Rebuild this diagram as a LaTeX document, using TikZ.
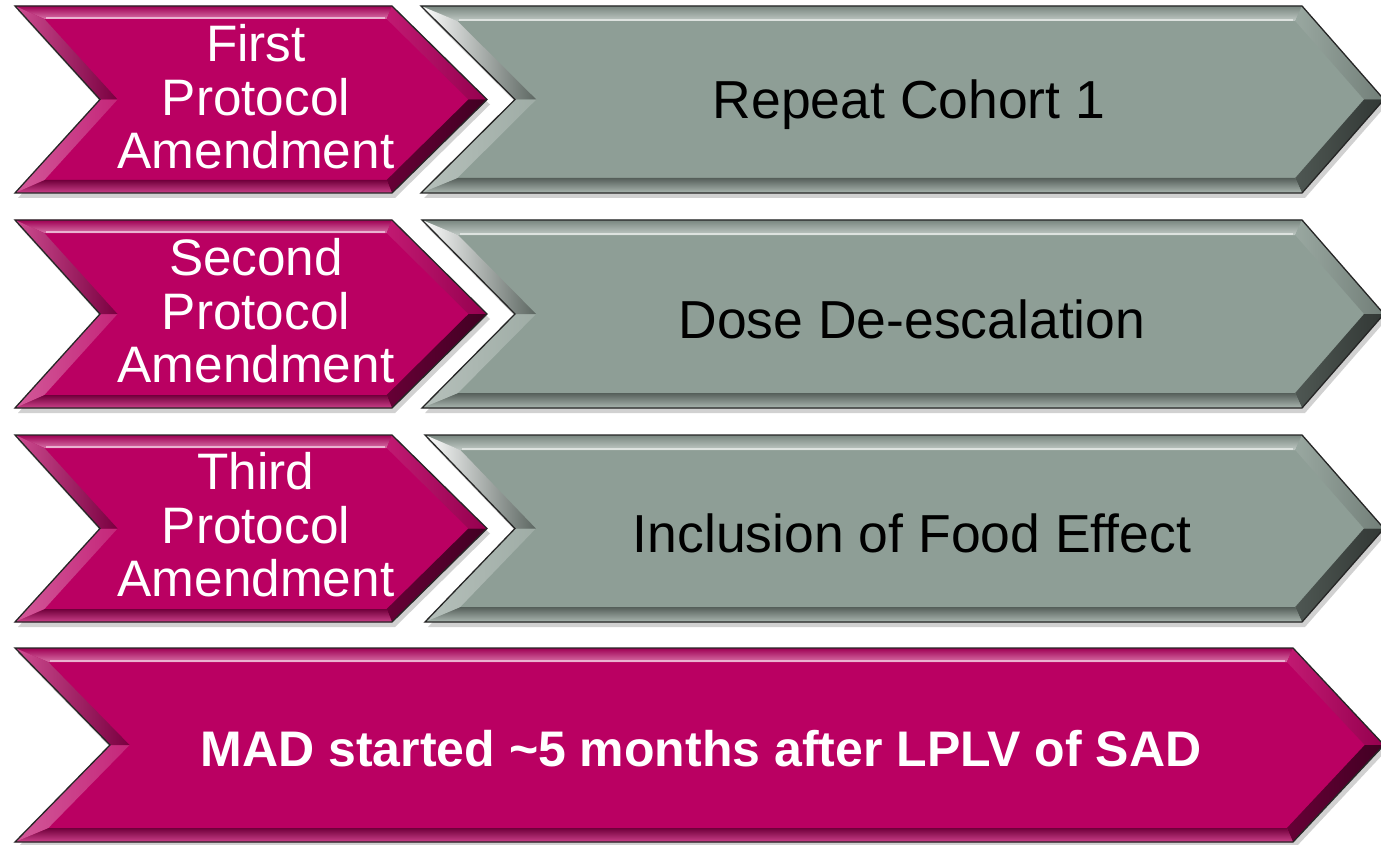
\documentclass[tikz,border=0pt]{standalone}
\usepackage{fontspec}
\setmainfont{Liberation Sans}
\definecolor{mag}{HTML}{BA0062}
\definecolor{gry}{HTML}{8E9E96}
\newcommand\chevron[9]{%
 % #1 L, #2 T, #3 R, #4 Tip, #5 B, #6 N, #7 colour, #8 bevel, #9 light/dark variant
 \pgfmathsetmacro\cC{(#2+#5)/2}%
 \pgfmathsetmacro\hh{(#5-#2)/2}%
 \pgfmathsetmacro\kR{(#4-#3)/\hh}%
 \pgfmathsetmacro\kL{(#6-#1)/\hh}%
 \pgfmathsetmacro\sR{#8*sqrt(1+\kR*\kR)}%
 \pgfmathsetmacro\sL{#8*sqrt(1+\kL*\kL)}%
 \pgfmathsetmacro\iTR{#3-\sR+#8*\kR}%
 \pgfmathsetmacro\iTip{#4-\sR}%
 \pgfmathsetmacro\iTL{#1+\sL+#8*\kL}%
 \pgfmathsetmacro\iN{#6+\sL}%
 \pgfmathsetmacro\iT{#2+#8}%
 \pgfmathsetmacro\iB{#5-#8}%
 % shadow
 \fill[black,opacity=0.18] (#1+3,#2+5) -- (#3+3,#2+5) -- (#4+3,\cC+5) -- (#3+3,#5+5) -- (#1+3,#5+5) -- (#6+3,\cC+5) -- cycle;
 % base
 \fill[#7] (#1,#2) -- (#3,#2) -- (#4,\cC) -- (#3,#5) -- (#1,#5) -- (#6,\cC) -- cycle;
 % faces
 \shade[top color=#7!85!black, bottom color=#7!55!white] (#1,#2) -- (#3,#2) -- (\iTR,\iT) -- (\iTL,\iT) -- cycle;
 \shade[left color=#7!90!white, right color=#7!80!black] (#3,#2) -- (#4,\cC) -- (\iTip,\cC) -- (\iTR,\iT) -- cycle;
 \shade[left color=#7!55!black, right color=#7!35!black] (#4,\cC) -- (#3,#5) -- (\iTR,\iB) -- (\iTip,\cC) -- cycle;
 \shade[top color=#7!60!black, bottom color=#7!75!white] (#3,#5) -- (#1,#5) -- (\iTL,\iB) -- (\iTR,\iB) -- cycle;
 \shade[left color=#7!65!white, right color=#7!85!white] (#1,#5) -- (#6,\cC) -- (\iN,\cC) -- (\iTL,\iB) -- cycle;
 \shade[left color=#9, right color=#7!65!black] (#6,\cC) -- (#1,#2) -- (\iTL,\iT) -- (\iN,\cC) -- cycle;
 % highlight line at inner top edge
 \draw[#7!30!white, line width=1.6] (\iTL+2,\iT-1) -- (\iTR-2,\iT-1);
 % outline
 \draw[black!85, line width=1.3, line join=miter] (#1,#2) -- (#3,#2) -- (#4,\cC) -- (#3,#5) -- (#1,#5) -- (#6,\cC) -- cycle;
}
\tikzset{
  magtext/.style={text=white, align=center, font=\fontsize{51.3}{53.5}\selectfont, inner sep=0pt},
  grytext/.style={text=black, align=center, font=\fontsize{53.5}{55}\selectfont, inner sep=0pt},
  madtext/.style={text=white, align=center, font=\bfseries\fontsize{50}{53}\selectfont, inner sep=0pt}
}
\begin{document}
\begin{tikzpicture}[x=1pt,y=-1pt]
\useasboundingbox (0,0) rectangle (1381,845);
\fill[white] (0,0) rectangle (1381,845);
% row 1
\chevron{15}{6}{392}{487}{193}{100}{mag}{13}{mag!70!white}
\chevron{421}{6}{1302}{1384}{193}{515}{gry}{15}{white}
\node[magtext] (m1) at (256,97) {First\\Protocol\\Amendment};
\node[grytext] (g1) at (909,105) {Repeat Cohort 1};
% row 2
\chevron{15}{220}{392}{487}{408}{100}{mag}{13}{mag!70!white}
\chevron{422}{220}{1302}{1384}{408}{515}{gry}{15}{white}
\node[magtext] (m2) at (256,311) {Second\\Protocol\\Amendment};
\node[grytext] (g2) at (912,319) {Dose De-escalation};
% row 3
\chevron{15}{435}{392}{487}{622}{100}{mag}{13}{mag!70!white}
\chevron{425}{435}{1302}{1384}{622}{515}{gry}{15}{white}
\node[magtext] (m3) at (256,525) {Third\\Protocol\\Amendment};
\node[grytext] (g3) at (912,533) {Inclusion of Food Effect};
% row 4
\chevron{15}{648}{1293}{1384}{842}{110}{mag}{14}{mag!70!white}
\node[madtext] (mad) at (701,749) {MAD started \textasciitilde 5 months after LPLV of SAD};
\end{tikzpicture}
\end{document}
